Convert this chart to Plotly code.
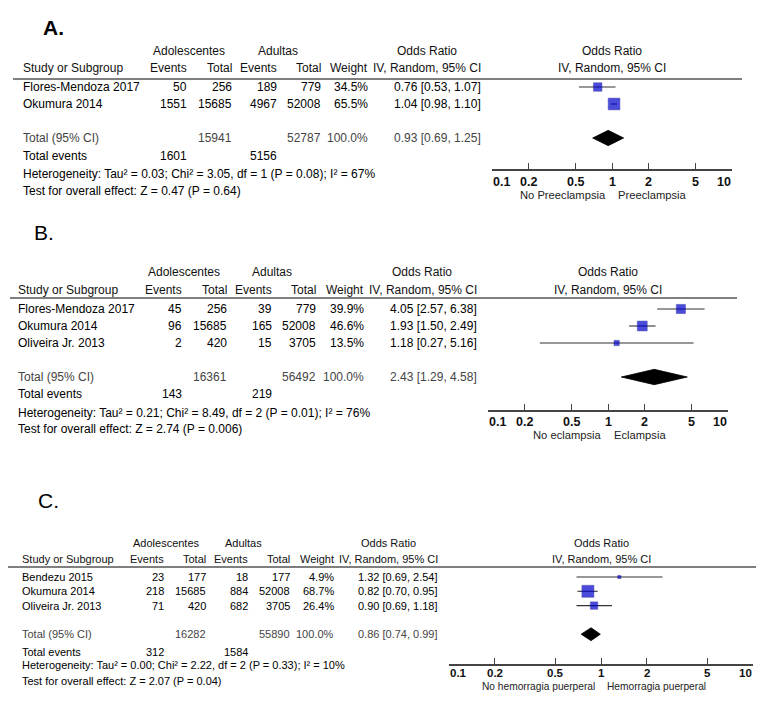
import numpy as np
import plotly.graph_objects as go

# page is 764x707; the html body has an 8px margin, so the figure is 756x699 placed at (8, 8)
PAGE_W, PAGE_H = 764, 707
OFF = 8
W, H = PAGE_W - OFF, PAGE_H - OFF
FONT = "Liberation Sans"

# ---------------- DATA ----------------
# Panel A: Preeclampsia
labels_A = ["Flores-Mendoza 2017", "Okumura 2014"]
adol_events_A = [50, 1551]
adol_total_A = [256, 15685]
adult_events_A = [189, 4967]
adult_total_A = [779, 52008]
weight_A = [34.5, 65.5]
or_A = [0.76, 1.04]
lo_A = [0.53, 0.98]
hi_A = [1.07, 1.10]
total_A = dict(adol_total=15941, adult_total=52787, weight=100.0, est=0.93, lo=0.69, hi=1.25,
               adol_events=1601, adult_events=5156)
het_A = "Heterogeneity: Tau² = 0.03; Chi² = 3.05, df = 1 (P = 0.08); I² = 67%"
test_A = "Test for overall effect: Z = 0.47 (P = 0.64)"
favours_A = ["No Preeclampsia", "Preeclampsia"]

# Panel B: Eclampsia
labels_B = ["Flores-Mendoza 2017", "Okumura 2014", "Oliveira Jr. 2013"]
adol_events_B = [45, 96, 2]
adol_total_B = [256, 15685, 420]
adult_events_B = [39, 165, 15]
adult_total_B = [779, 52008, 3705]
weight_B = [39.9, 46.6, 13.5]
or_B = [4.05, 1.93, 1.18]
lo_B = [2.57, 1.50, 0.27]
hi_B = [6.38, 2.49, 5.16]
total_B = dict(adol_total=16361, adult_total=56492, weight=100.0, est=2.43, lo=1.29, hi=4.58,
               adol_events=143, adult_events=219)
het_B = "Heterogeneity: Tau² = 0.21; Chi² = 8.49, df = 2 (P = 0.01); I² = 76%"
test_B = "Test for overall effect: Z = 2.74 (P = 0.006)"
favours_B = ["No eclampsia", "Eclampsia"]

# Panel C: Postpartum haemorrhage
labels_C = ["Bendezu 2015", "Okumura 2014", "Oliveira Jr. 2013"]
adol_events_C = [23, 218, 71]
adol_total_C = [177, 15685, 420]
adult_events_C = [18, 884, 682]
adult_total_C = [177, 52008, 3705]
weight_C = [4.9, 68.7, 26.4]
or_C = [1.32, 0.82, 0.90]
lo_C = [0.69, 0.70, 0.69]
hi_C = [2.54, 0.95, 1.18]
total_C = dict(adol_total=16282, adult_total=55890, weight=100.0, est=0.86, lo=0.74, hi=0.99,
               adol_events=312, adult_events=1584)
het_C = "Heterogeneity: Tau² = 0.00; Chi² = 2.22, df = 2 (P = 0.33); I² = 10%"
test_C = "Test for overall effect: Z = 2.07 (P = 0.04)"
favours_C = ["No hemorragia puerperal", "Hemorragia puerperal"]

tick_values = [0.1, 0.2, 0.5, 1, 2, 5, 10]
tick_labels = ["0.1", "0.2", "0.5", "1", "2", "5", "10"]
null_value = 1

# ---------------- LAYOUT GEOMETRY (page pixels) ----------------
panels = [
    dict(name="A.", bold=True, lab_x=42, lab_y=28,
         labels=labels_A, ae=adol_events_A, at=adol_total_A, ue=adult_events_A, ut=adult_total_A,
         w=weight_A, est=or_A, lo=lo_A, hi=hi_A, tot=total_A, het=het_A, test=test_A, fav=favours_A,
         fs=12, group_y=51, col_y=68, line_y=79, line_x=(13, 742), y0=87, sp=17,
         ev_dy=18, het_dy=36, test_dy=53,
         study_x=22, ev1=188, tot1=233, ev2=278, tot2=322, wt=369, orx=482,
         adol_c=189, adult_c=278, orh_c=427,
         ax=(492, 732), ax_y=169, tick_y=182, fav_y=195),
    dict(name="B.", bold=False, lab_x=33, lab_y=232,
         labels=labels_B, ae=adol_events_B, at=adol_total_B, ue=adult_events_B, ut=adult_total_B,
         w=weight_B, est=or_B, lo=lo_B, hi=hi_B, tot=total_B, het=het_B, test=test_B, fav=favours_B,
         fs=12, group_y=272, col_y=290, line_y=298, line_x=(10, 737), y0=309, sp=17,
         ev_dy=17, het_dy=36, test_dy=52,
         study_x=17, ev1=183, tot1=228, ev2=273, tot2=317, wt=365, orx=478,
         adol_c=184, adult_c=272, orh_c=422,
         ax=(488, 728), ax_y=410, tick_y=422, fav_y=435),
    dict(name="C.", bold=False, lab_x=37, lab_y=500,
         labels=labels_C, ae=adol_events_C, at=adol_total_C, ue=adult_events_C, ut=adult_total_C,
         w=weight_C, est=or_C, lo=lo_C, hi=hi_C, tot=total_C, het=het_C, test=test_C, fav=favours_C,
         fs=11, group_y=543, col_y=559, line_y=567, line_x=(5, 760), y0=577, sp=14.3,
         ev_dy=18, het_dy=31, test_dy=47,
         study_x=21, ev1=165, tot1=207, ev2=249, tot2=291, wt=335, orx=439,
         adol_c=166, adult_c=243, orh_c=388,
         ax=(449, 753), ax_y=664, tick_y=673, fav_y=686),
]


def px(x):
    return (x - OFF) / W


def py(y):
    return 1 - (y - OFF) / H


fig = go.Figure()
annotations = []
shapes = []


def txt(text, x, y, anchor="left", size=12, color="#111", bold=False):
    annotations.append(dict(
        text=f"<b>{text}</b>" if bold else text, x=px(x), y=py(y), xref="paper", yref="paper",
        xanchor=anchor, yanchor="middle", showarrow=False, borderpad=0,
        font=dict(family=FONT, size=size, color=color)))


def fmt_or(e, l, h):
    return f"{e:.2f} [{l:.2f}, {h:.2f}]"


for k, p in enumerate(panels, start=1):
    xa = "x" if k == 1 else f"x{k}"
    ya = "y" if k == 1 else f"y{k}"
    fs = p["fs"]
    n = len(p["labels"])
    tot_idx = n + 1
    center_x = (p["ax"][0] + p["ax"][1]) / 2

    # panel label
    txt(p["name"], p["lab_x"], p["lab_y"], "left", 21, "#000", p["bold"])

    # headers
    txt("Adolescentes", p["adol_c"], p["group_y"], "center", fs)
    txt("Adultas", p["adult_c"], p["group_y"], "center", fs)
    txt("Odds Ratio", p["orh_c"], p["group_y"], "center", fs)
    txt("Odds Ratio", center_x, p["group_y"], "center", fs)
    txt("Study or Subgroup", p["study_x"], p["col_y"], "left", fs)
    txt("Events", p["ev1"], p["col_y"], "right", fs)
    txt("Total", p["tot1"], p["col_y"], "right", fs)
    txt("Events", p["ev2"], p["col_y"], "right", fs)
    txt("Total", p["tot2"], p["col_y"], "right", fs)
    txt("Weight", p["wt"], p["col_y"], "right", fs)
    txt("IV, Random, 95% CI", p["orx"], p["col_y"], "right", fs)
    txt("IV, Random, 95% CI", center_x, p["col_y"], "center", fs)

    shapes.append(dict(type="line", xref="paper", yref="paper",
                       x0=px(p["line_x"][0]), x1=px(p["line_x"][1]),
                       y0=py(p["line_y"]), y1=py(p["line_y"]),
                       line=dict(color="#555", width=1.6)))

    # study rows
    for i in range(n):
        yy = p["y0"] + i * p["sp"]
        txt(p["labels"][i], p["study_x"], yy, "left", fs, "#000")
        txt(str(p["ae"][i]), p["ev1"], yy, "right", fs, "#000")
        txt(str(p["at"][i]), p["tot1"], yy, "right", fs, "#000")
        txt(str(p["ue"][i]), p["ev2"], yy, "right", fs, "#000")
        txt(str(p["ut"][i]), p["tot2"], yy, "right", fs, "#000")
        txt(f"{p['w'][i]:.1f}%", p["wt"], yy, "right", fs, "#000")
        txt(fmt_or(p["est"][i], p["lo"][i], p["hi"][i]), p["orx"], yy, "right", fs, "#000")

    t = p["tot"]
    ty = p["y0"] + tot_idx * p["sp"]
    txt("Total (95% CI)", p["study_x"], ty, "left", fs, "#444")
    txt(str(t["adol_total"]), p["tot1"], ty, "right", fs, "#444")
    txt(str(t["adult_total"]), p["tot2"], ty, "right", fs, "#444")
    txt(f"{t['weight']:.1f}%", p["wt"], ty, "right", fs, "#444")
    txt(fmt_or(t["est"], t["lo"], t["hi"]), p["orx"], ty, "right", fs, "#444")
    txt("Total events", p["study_x"], ty + p["ev_dy"], "left", fs, "#000")
    txt(str(t["adol_events"]), p["ev1"], ty + p["ev_dy"], "right", fs, "#000")
    txt(str(t["adult_events"]), p["ev2"], ty + p["ev_dy"], "right", fs, "#000")
    txt(p["het"], p["study_x"], ty + p["het_dy"], "left", fs, "#000")
    txt(p["test"], p["study_x"], ty + p["test_dy"], "left", fs, "#000")

    # favours labels
    txt(p["fav"][0], center_x - 5, p["fav_y"], "right", fs - 0.8, "#222")
    txt(p["fav"][1], center_x + 5, p["fav_y"], "left", fs - 0.8, "#222")

    # forest axes
    y_top = (p["line_y"] - p["y0"]) / p["sp"]
    y_bot = (p["ax_y"] - p["y0"]) / p["sp"]
    fig.layout[("xaxis" if k == 1 else f"xaxis{k}")] = dict(
        type="log", range=[-1, 1], domain=[px(p["ax"][0]), px(p["ax"][1])], anchor=ya,
        showline=True, linecolor="#444", linewidth=1.6, mirror=False,
        ticks="inside", ticklen=6, tickwidth=1.3, tickcolor="#444",
        tickvals=tick_values, showticklabels=False,
        showgrid=False, zeroline=False, fixedrange=True)
    fig.layout[("yaxis" if k == 1 else f"yaxis{k}")] = dict(
        domain=[py(p["ax_y"]), py(p["line_y"])], range=[y_bot, y_top], anchor=xa,
        visible=False, showgrid=False, zeroline=False, fixedrange=True)

    # tick labels: the end labels stay inside the axis extent, as in the original
    for j, (tv, tl) in enumerate(zip(tick_values, tick_labels)):
        anchor = "left" if j == 0 else ("right" if j == len(tick_values) - 1 else "center")
        annotations.append(dict(
            text=f"<b>{tl}</b>", x=np.log10(tv), xref=xa, y=py(p["tick_y"]), yref="paper",
            xanchor=anchor, yanchor="middle", showarrow=False, borderpad=0,
            font=dict(family=FONT, size=fs + 0.5, color="#111")))

    # null line
    shapes.append(dict(type="line", xref=xa, yref=f"{ya} domain",
                       x0=np.log10(null_value), x1=np.log10(null_value), y0=0, y1=1,
                       line=dict(color="#444", width=1.3)))

    idx = list(range(n))
    # whiskers
    wx, wy = [], []
    for i in idx:
        wx += [p["lo"][i], p["hi"][i], None]
        wy += [i, i, None]
    fig.add_trace(go.Scatter(x=wx, y=wy, xaxis=xa, yaxis=ya, mode="lines",
                             line=dict(color="#333", width=1.1), hoverinfo="skip",
                             showlegend=False, cliponaxis=False))
    # squares
    fig.add_trace(go.Scatter(x=p["est"], y=idx, xaxis=xa, yaxis=ya, mode="markers",
                             marker=dict(symbol="square", color="#0000CC",
                                         size=[1.45 * np.sqrt(v) for v in p["w"]],
                                         line=dict(color="#000088", width=0.5)),
                             showlegend=False, cliponaxis=False))
    # diamond
    h = 0.45
    fig.add_trace(go.Scatter(x=[t["lo"], t["est"], t["hi"], t["est"], t["lo"]],
                             y=[tot_idx, tot_idx - h, tot_idx, tot_idx + h, tot_idx],
                             xaxis=xa, yaxis=ya, mode="lines", fill="toself",
                             fillcolor="#000", line=dict(color="#000", width=0.8),
                             showlegend=False, hoverinfo="skip"))

# light blue edge line at the right of panel C
shapes.append(dict(type="line", xref="paper", yref="paper", x0=px(761), x1=px(761),
                   y0=py(440), y1=py(707), line=dict(color="#8FD3F0", width=3)))

fig.update_layout(width=W, height=H, margin=dict(l=0, r=0, t=0, b=0),
                  paper_bgcolor="white", plot_bgcolor="white",
                  annotations=annotations, shapes=shapes, showlegend=False)

fig.write_html("out.html")
